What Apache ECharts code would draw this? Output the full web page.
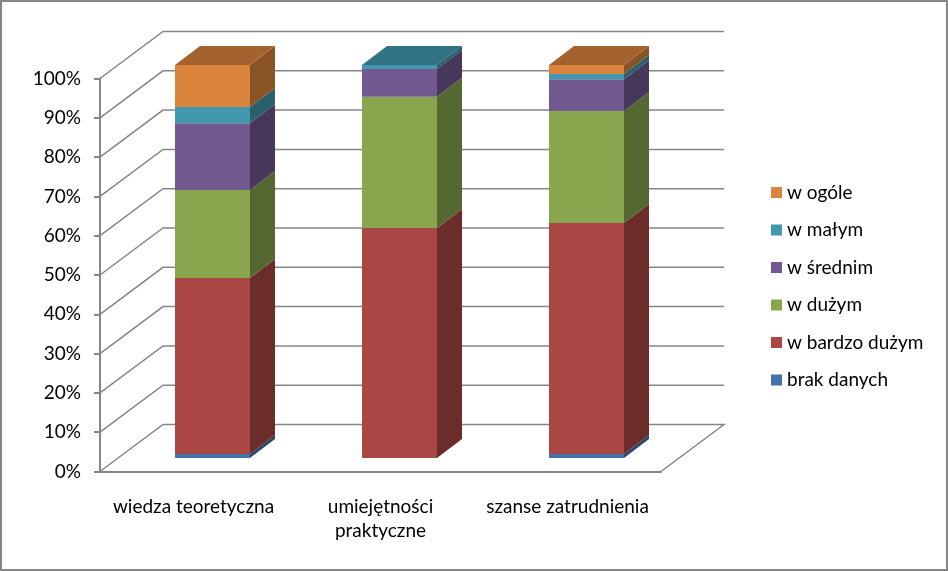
<!DOCTYPE html>
<html>
<head>
<meta charset="utf-8">
<style>
  html, body { margin: 0; padding: 0; background: #fff; }
  #main { width: 948px; height: 571px; }
</style>
</head>
<body>
<div id="main"></div>
<script src="https://cdn.jsdelivr.net/npm/echarts@6/dist/echarts.min.js"></script>
<script>
// dane (%)
const categories = ['wiedza teoretyczna', 'umiejętności\npraktyczne', 'szanse zatrudnienia']
const yTicks = [0, 10, 20, 30, 40, 50, 60, 70, 80, 90, 100]
const seriesNames = ['brak danych', 'w bardzo dużym', 'w dużym', 'w średnim', 'w małym', 'w ogóle']
const brakDanych = [1, 0, 1]
const wBardzoDuzym = [44.8, 58.5, 58.8]
const wDuzym = [22.4, 33.4, 28.5]
const wSrednim = [17, 7.1, 8.1]
const wMalym = [4.1, 1, 1.3]
const wOgole = [10.7, 0, 2.3]
const seriesValues = [brakDanych, wBardzoDuzym, wDuzym, wSrednim, wMalym, wOgole]
const colors = ['#4572A7', '#AA4643', '#89A54E', '#71588F', '#4198AF', '#DB843D']

const font = 'Lato'
const fontSize = 19
const axisGrey = '#868686'

// przesunięcia rzutu 3D (piksele)
const wallDx = 63
const wallDy = -47
const barWidth = 75
const barDx = 25
const barDy = -19
const barShiftX = 19
const barShiftY = -13.5

const shade = (hex, k) => {
  const n = parseInt(hex.slice(1), 16)
  const c = [n >> 16, (n >> 8) & 255, n & 255].map(v => Math.round(v * k))
  return `rgb(${c.join(',')})`
}

/**
 * Linie siatki na ścianie i podłodze
 */
const renderWall = (params, api) => {
  const cs = params.coordSys
  const y = api.coord([0, api.value(0)])[1]
  const left = cs.x
  const right = cs.x + cs.width
  const points = [
    [left, y],
    [left + wallDx, y + wallDy],
    [right + wallDx, y + wallDy]
  ]
  if (api.value(0) === 0) {
    points.push([right, y])
  }
  return {
    type: 'polyline',
    shape: { points },
    style: { stroke: axisGrey, lineWidth: 1.5, fill: null }
  }
}

/**
 * Jeden segment słupka: przód, bok, ewentualnie wierzch
 */
const renderSegment = color => (params, api) => {
  const from = api.value(1)
  const to = api.value(2)
  if (to - from <= 0) return null
  const cx = api.coord([api.value(0), from])[0] + barShiftX
  const y0 = api.coord([api.value(0), from])[1] + barShiftY
  const y1 = api.coord([api.value(0), to])[1] + barShiftY
  const xl = cx - barWidth / 2
  const xr = cx + barWidth / 2
  const faces = [
    {
      type: 'polygon',
      shape: { points: [[xr, y0], [xr + barDx, y0 + barDy], [xr + barDx, y1 + barDy], [xr, y1]] },
      style: { fill: shade(color, 0.63) }
    },
    {
      type: 'rect',
      shape: { x: xl, y: y1, width: barWidth, height: y0 - y1 },
      style: { fill: color }
    }
  ]
  if (to >= 99.9) {
    faces.push({
      type: 'polygon',
      shape: { points: [[xl, y1], [xl + barDx, y1 + barDy], [xr + barDx, y1 + barDy], [xr, y1]] },
      style: { fill: shade(color, 0.75) }
    })
  }
  return { type: 'group', children: faces }
}

const cumulative = categories.map(() => 0)
const segmentSeries = seriesNames.map((name, s) => ({
  name,
  type: 'custom',
  itemStyle: { color: colors[s] },
  renderItem: renderSegment(colors[s]),
  encode: { x: 0, y: [1, 2] },
  z: 3,
  data: categories.map((c, i) => {
    const from = cumulative[i]
    cumulative[i] += seriesValues[s][i]
    return [i, from, cumulative[i]]
  })
}))

const mChart = echarts.init(document.getElementById('main'))
mChart.setOption({
  animation: false,
  backgroundColor: '#fff',
  textStyle: { fontFamily: font, color: '#000' },
  grid: { left: 100, top: 78.5, width: 561, height: 393 },
  graphic: [
    {
      type: 'rect',
      z: 100,
      shape: { x: 1, y: 1, width: 946, height: 569 },
      style: { fill: null, stroke: axisGrey, lineWidth: 2 }
    }
  ],
  legend: {
    orient: 'vertical',
    left: 766,
    top: 178,
    itemWidth: 11,
    itemHeight: 11,
    itemGap: 18.5,
    icon: 'rect',
    data: seriesNames.slice().reverse(),
    textStyle: { fontFamily: font, fontSize, color: '#000', lineHeight: 18 }
  },
  xAxis: {
    type: 'category',
    data: categories,
    axisLine: { lineStyle: { color: axisGrey, width: 2 } },
    axisTick: { length: 9, lineStyle: { color: axisGrey, width: 2 } },
    axisLabel: { fontFamily: font, fontSize, color: '#000', margin: 23, lineHeight: 24, interval: 0 },
    splitLine: { show: false }
  },
  yAxis: {
    type: 'value',
    min: 0,
    max: 100,
    interval: 10,
    axisLine: { show: true, lineStyle: { color: axisGrey, width: 2 } },
    axisTick: { show: true, length: 6, lineStyle: { color: axisGrey, width: 2 } },
    axisLabel: { fontFamily: font, fontSize, color: '#000', margin: 19, formatter: '{value}%' },
    splitLine: { show: false }
  },
  series: [
    {
      type: 'custom',
      renderItem: renderWall,
      clip: false,
      silent: true,
      z: 1,
      encode: { y: 0 },
      data: yTicks.map(v => [v])
    },
    ...segmentSeries
  ]
})
</script>
</body>
</html>
